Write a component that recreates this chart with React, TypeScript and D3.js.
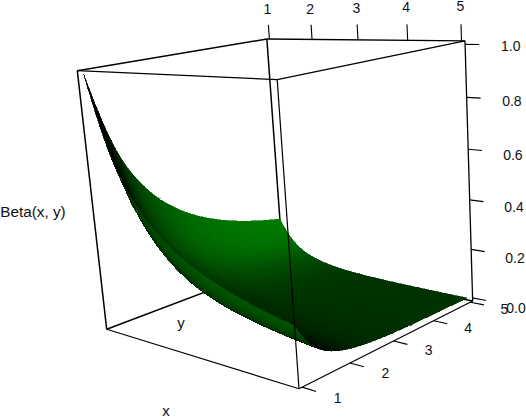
import React, { useEffect, useRef } from "react";
import * as d3 from "d3";

// Grid of the surface, both axes
const gridValues = [1, 1.5, 2, 2.5, 3, 3.5, 4, 4.5, 5];

// Beta(x, y), one row per x value, columns follow y
const betaX10 = [1, 0.666667, 0.5, 0.4, 0.333333, 0.285714, 0.25, 0.222222, 0.2];
const betaX15 = [0.666667, 0.392699, 0.266667, 0.19635, 0.152381, 0.122718, 0.101587, 0.085903, 0.073882];
const betaX20 = [0.5, 0.266667, 0.166667, 0.114286, 0.083333, 0.063492, 0.05, 0.040404, 0.033333];
const betaX25 = [0.4, 0.19635, 0.114286, 0.073631, 0.050794, 0.036815, 0.027706, 0.021476, 0.01705];
const betaX30 = [0.333333, 0.152381, 0.083333, 0.050794, 0.033333, 0.023088, 0.016667, 0.012432, 0.009524];
const betaX35 = [0.285714, 0.122718, 0.063492, 0.036815, 0.023088, 0.01534, 0.010656, 0.00767, 0.005683];
const betaX40 = [0.25, 0.101587, 0.05, 0.027706, 0.016667, 0.010656, 0.007143, 0.004973, 0.003571];
const betaX45 = [0.222222, 0.085903, 0.040404, 0.021476, 0.012432, 0.00767, 0.004973, 0.003356, 0.00234];
const betaX50 = [0.2, 0.073882, 0.033333, 0.01705, 0.009524, 0.005683, 0.003571, 0.00234, 0.001587];

const xyTicks = [1, 2, 3, 4, 5];
const zTicks = [0, 0.2, 0.4, 0.6, 0.8, 1];

const width = 526;
const height = 418;

// Perspective: [constant, u, v, w] for screen x, screen y and depth
const pmat = [
  [106.7, 142.97, 223, -33.73],
  [329.3, -4.73, -23.5, -262.56],
  [1, -0.165, 0.165, -0.056],
];

function project(u: number, v: number, w: number): [number, number] {
  const [px, py, pw] = pmat.map((r) => r[0] + r[1] * u + r[2] * v + r[3] * w);
  return [px / pw, py / pw];
}

function catmull(a: number, b: number, c: number, d: number, t: number) {
  return (
    b +
    0.5 * t * (c - a + t * (2 * a - 5 * b + 4 * c - d + t * (3 * (b - c) + d - a)))
  );
}

export default function App() {
  const svgRef = useRef<SVGSVGElement>(null);

  useEffect(() => {
    const svg = d3.select(svgRef.current);
    svg.selectAll("*").remove();

    // The box is a little larger than the data
    const xyScale = d3.scaleLinear().domain([1, 5]).range([0.015, 0.985]);
    const zScale = d3.scaleLinear().domain([0, 1]).range([0.013, 0.987]);
    const green = d3.scaleLinear().domain([0, 2.6]).range([0, 130]).clamp(true);

    const rows = [betaX10, betaX15, betaX20, betaX25, betaX30, betaX35, betaX40, betaX45, betaX50];
    const logs = rows.map((r) => r.map(Math.log));
    const last = gridValues.length - 1;

    // Ghost values past the edge of the table, for the spline
    const logAt = (i: number, j: number): number => {
      if (i < 0) return 2 * logAt(0, j) - logAt(1, j);
      if (i > last) return 2 * logAt(last, j) - logAt(last - 1, j);
      if (j < 0) return 2 * logAt(i, 0) - logAt(i, 1);
      if (j > last) return 2 * logAt(i, last) - logAt(i, last - 1);
      return logs[i][j];
    };

    // Smooth the table for drawing
    const sub = 8;
    const steps = last * sub;
    const mesh: { u: number; v: number; w: number }[][] = [];
    for (let a = 0; a <= steps; a++) {
      const i = Math.min(Math.floor(a / sub), last - 1);
      const s = a / sub - i;
      const col: { u: number; v: number; w: number }[] = [];
      for (let b = 0; b <= steps; b++) {
        const j = Math.min(Math.floor(b / sub), last - 1);
        const t = b / sub - j;
        const across = [-1, 0, 1, 2].map((di) =>
          catmull(logAt(i + di, j - 1), logAt(i + di, j), logAt(i + di, j + 1), logAt(i + di, j + 2), t),
        );
        const z = Math.exp(catmull(across[0], across[1], across[2], across[3], s));
        col.push({
          u: xyScale(gridValues[i] + s * (gridValues[i + 1] - gridValues[i])),
          v: xyScale(gridValues[j] + t * (gridValues[j + 1] - gridValues[j])),
          w: zScale(z),
        });
      }
      mesh.push(col);
    }

    const boxLine = (
      p: [number, number, number],
      q: [number, number, number],
      lw: number,
    ) => {
      const [x1, y1] = project(...p);
      const [x2, y2] = project(...q);
      svg
        .append("line")
        .attr("x1", x1)
        .attr("y1", y1)
        .attr("x2", x2)
        .attr("y2", y2)
        .attr("stroke", "#000")
        .attr("stroke-width", lw);
    };

    // Back of the box, the surface covers these
    boxLine([0, 0, 0], [0, 1, 0], 1.5);
    boxLine([0, 1, 0], [1, 1, 0], 1.5);
    boxLine([0, 1, 0], [0, 1, 1], 1.5);

    // Far cells first
    const lightU = 2.6;
    const lightV = -2.9;
    const cells = svg.append("g").attr("shape-rendering", "crispEdges");
    for (let a = 0; a < steps; a++) {
      for (let b = steps - 1; b >= 0; b--) {
        const p00 = mesh[a][b];
        const p10 = mesh[a + 1][b];
        const p01 = mesh[a][b + 1];
        const p11 = mesh[a + 1][b + 1];
        const dzu = (p10.w + p11.w - p00.w - p01.w) / (p10.u + p11.u - p00.u - p01.u);
        const dzv = (p01.w + p11.w - p00.w - p10.w) / (p01.v + p11.v - p00.v - p10.v);
        const len = Math.hypot(dzu, dzv, 1);
        const lit = Math.abs((-dzu * lightU - dzv * lightV + 1) / len);
        const colour = `rgb(0,${Math.round(green(lit))},0)`;
        const pts = [p00, p10, p11, p01]
          .map((p) => project(p.u, p.v, p.w).join(","))
          .join(" ");
        cells
          .append("polygon")
          .attr("points", pts)
          .attr("fill", colour)
          .attr("stroke", colour)
          .attr("stroke-width", 0.6);
      }
    }

    // Front of the box
    boxLine([0, 0, 1], [0, 1, 1], 1.5);
    boxLine([0, 1, 1], [1, 1, 1], 1.3);
    boxLine([0, 0, 1], [1, 0, 1], 1.3);
    boxLine([1, 0, 1], [1, 1, 1], 1.3);
    boxLine([0, 0, 0], [0, 0, 1], 1.5);
    boxLine([1, 0, 0], [1, 0, 1], 1.2);
    boxLine([1, 1, 0], [1, 1, 1], 1.3);
    boxLine([0, 0, 0], [1, 0, 0], 1.2);
    boxLine([1, 0, 0], [1, 1, 0], 1.2);

    const label = (x: number, y: number, s: string, size = 14) =>
      svg
        .append("text")
        .attr("x", x)
        .attr("y", y)
        .attr("text-anchor", "middle")
        .attr("dominant-baseline", "central")
        .attr("font-family", "'Liberation Sans', sans-serif")
        .attr("font-size", size)
        .attr("fill", "#111")
        .text(s);

    // x axis along the top of the box
    xyTicks.forEach((t) => {
      const u = xyScale(t);
      boxLine([u, 1, 1], [u, 1, 1.06], 1.1);
      const [lx, ly] = project(u, 1, 1.125);
      label(lx, ly, String(t));
    });

    // y axis along the front bottom edge
    xyTicks.forEach((t) => {
      const v = xyScale(t);
      boxLine([1, v, 0], [1.06, v, 0], 1.1);
      const [lx, ly] = project(1.15, v, 0);
      label(lx, ly, String(t));
    });

    // z axis on the right edge
    zTicks.forEach((t) => {
      const w = zScale(t);
      boxLine([1, 1, w], [1.06, 1, w], 1.1);
      const [lx, ly] = project(1.19, 1, w);
      label(lx, ly + 1.5, t.toFixed(1));
    });

    label(33, 211, "Beta(x, y)", 15.3);
    label(166, 410, "x", 15);
    label(181, 322, "y", 15);
  }, []);

  return (
    <svg
      ref={svgRef}
      width={width}
      height={height}
      style={{ position: "absolute", left: 0, top: 0, display: "block", background: "#fff" }}
    />
  );
}
